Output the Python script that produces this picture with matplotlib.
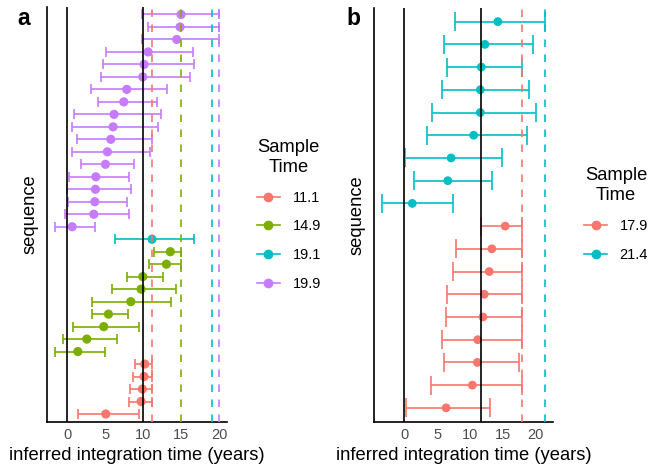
import matplotlib
matplotlib.use("Agg")
import matplotlib.pyplot as plt
from matplotlib.lines import Line2D
import numpy as np

plt.rcParams['font.family'] = ['Liberation Sans', 'DejaVu Sans']

# ---------------- data: panel a (bottom to top) ----------------
a_levels = [11.1, 14.9, 19.1, 19.9]
a_colors = ["#F8766D", "#7CAE00", "#00BFC4", "#C77CFF"]
a_group = [11.1] * 5 + [14.9] * 9 + [19.1] * 1 + [19.9] * 18
a_est = [5.05, 9.70, 9.87, 10.09, 10.18,
         1.37, 2.55, 4.78, 5.40, 8.34, 9.70, 9.92, 13.03, 13.55,
         11.14,
         0.62, 3.47, 3.60, 3.68, 3.74, 5.00, 5.26, 5.71, 6.01, 6.14,
         7.42, 7.81, 9.92, 10.09, 10.62, 14.39, 14.83, 14.96]
a_lo = [1.41, 8.08, 8.21, 8.68, 8.95,
        -1.62, -0.53, 0.71, 3.29, 3.29, 5.84, 7.90, 10.75, 11.37,
        6.32,
        -1.62, -0.26, 0.13, -0.08, 0.22, 1.80, 0.58, 1.28, 0.62, 0.92,
        4.00, 3.08, 4.47, 4.66, 5.05, 9.87, 10.66, 9.79]
a_hi = [9.39, 11.1, 11.1, 11.1, 11.1,
        4.96, 6.54, 9.43, 8.03, 13.60, 14.30, 12.59, 14.9, 14.9,
        16.67,
        3.68, 8.08, 7.90, 8.38, 8.12, 8.82, 10.88, 11.10, 11.93, 12.29,
        11.76, 13.12, 16.14, 16.63, 16.58, 19.9, 19.9, 19.9]
a_ref = [0, 10.0]

# ---------------- data: panel b (bottom to top) ----------------
b_levels = [17.9, 21.4]
b_colors = ["#F8766D", "#00BFC4"]
b_group = [17.9] * 9 + [21.4] * 9
b_est = [6.36, 10.36, 11.12, 11.17, 11.97, 12.17, 12.93, 13.33, 15.36,
         1.21, 6.62, 7.12, 10.56, 11.57, 11.57, 11.72, 12.27, 14.24]
b_lo = [0.30, 4.00, 6.02, 5.71, 6.32, 6.57, 7.48, 7.83, 11.67,
        -3.38, 1.52, 0.10, 3.39, 4.15, 5.76, 6.57, 6.02, 7.73]
b_hi = [13.09, 17.9, 17.42, 17.9, 17.9, 17.9, 17.9, 17.9, 17.9,
        7.42, 13.33, 14.80, 18.69, 20.0, 19.0, 17.98, 19.55, 21.4]
b_ref = [0, 11.67]

xticks = [0, 5, 10, 15, 20]

W, H = 656, 466
fig = plt.figure(figsize=(W / 100, H / 100), dpi=100)

TICK_FS = 10.5
LAB_FS = 13.2


def panel(rect, levels, colors, group, est, lo, hi, ref, cap, ms, legend_pos):
    ax = fig.add_axes(rect)
    cmap = dict(zip(levels, colors))
    n = len(est)
    y = np.arange(1, n + 1)
    cols = [cmap[g] for g in group]
    ax.hlines(y, lo, hi, colors=cols, lw=1.2, zorder=2)
    ax.vlines(lo, y - cap, y + cap, colors=cols, lw=1.2, zorder=2)
    ax.vlines(hi, y - cap, y + cap, colors=cols, lw=1.2, zorder=2)
    ax.scatter(est, y, c=cols, s=ms, zorder=3, linewidths=0)
    for r in ref:
        ax.axvline(r, color='black', lw=1.2, zorder=4)
    for lv, c in zip(levels, colors):
        ax.axvline(lv, color=c, lw=1.2, ls=(0, (4.5, 4.5)), zorder=4)
    vals = list(lo) + list(hi) + list(est)
    lo_v, hi_v = min(vals), max(vals)
    pad = 0.05 * (hi_v - lo_v)
    ax.set_xlim(lo_v - pad, hi_v + pad)
    ax.set_ylim(0.4, n + 0.6)
    ax.set_yticks([])
    ax.set_xticks(xticks)
    ax.tick_params(axis='x', length=0, pad=5, labelsize=TICK_FS, labelcolor='#4D4D4D')
    for s in ['top', 'right']:
        ax.spines[s].set_visible(False)
    for s in ['left', 'bottom']:
        ax.spines[s].set_linewidth(1.2)
        ax.spines[s].set_color('black')
    ax.set_xlabel("inferred integration time (years)", fontsize=LAB_FS, labelpad=3.5)
    ax.set_ylabel("sequence", fontsize=LAB_FS, labelpad=6)
    handles = [Line2D([0], [0], color=c, lw=1.2, marker='o', ms=6) for c in colors]
    leg = fig.legend(handles, [str(l) for l in levels], title="Sample\nTime",
                     loc='upper left', bbox_to_anchor=legend_pos, frameon=False,
                     fontsize=TICK_FS, title_fontsize=LAB_FS, handlelength=1.6,
                     handletextpad=0.85, labelspacing=1.0, borderpad=0,
                     borderaxespad=0)
    leg.get_title().set_multialignment('center')
    leg._legend_box.sep = 11
    return ax


axa = panel([47 / W, 1 - 421.5 / H, (226.7 - 47) / W, (421.5 - 7) / H],
            a_levels, a_colors, a_group, a_est, a_lo, a_hi, a_ref, 0.4, 44,
            (256.7 / W, 1 - 139 / H))
axb = panel([374 / W, 1 - 421.5 / H, (553 - 374) / W, (421.5 - 8) / H],
            b_levels, b_colors, b_group, b_est, b_lo, b_hi, b_ref, 0.42, 40,
            (584 / W, 1 - 167.5 / H))

fig.text(17 / W, 1 - 25 / H, "a", fontsize=16.5, fontweight='bold', va='baseline')
fig.text(346 / W, 1 - 25 / H, "b", fontsize=16.5, fontweight='bold', va='baseline')

fig.savefig("out.png", dpi=100)
